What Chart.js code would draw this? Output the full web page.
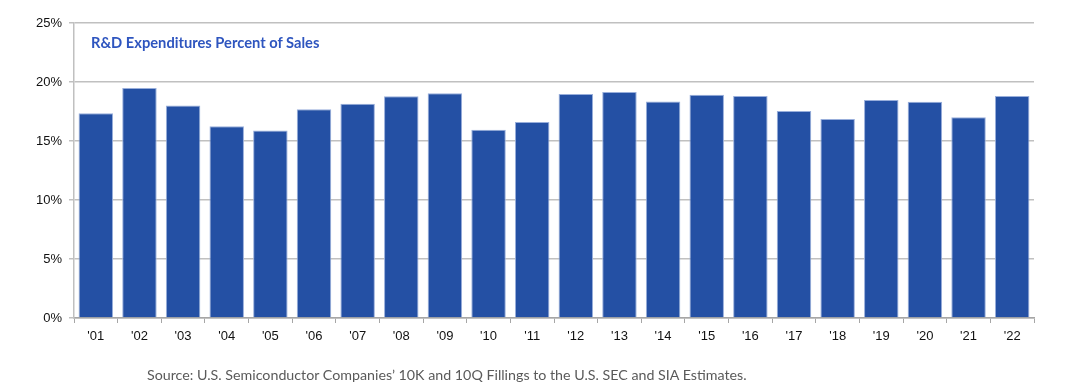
<!DOCTYPE html>
<html>
<head>
<meta charset="utf-8">
<script src="https://cdn.jsdelivr.net/npm/chart.js@4/dist/chart.umd.min.js"></script>
<style>
  html, body { margin: 0; padding: 0; background: #ffffff; }
  #wrap { position: relative; width: 1066px; height: 385px; }
  #c { position: absolute; left: 0; top: 0; }
  #title { position: absolute; left: 91px; top: 33px; font-family: "Lato", "Open Sans", sans-serif; font-weight: 700; font-size: 14.7px; color: #2e55bf; white-space: nowrap; }
  #source { position: absolute; left: 147px; top: 366px; font-family: "Lato", "Open Sans", sans-serif; font-size: 14.25px; color: #5a5a5a; white-space: nowrap; }
</style>
</head>
<body>
<div id="wrap">
  <canvas id="c" width="1066" height="385"></canvas>
  <div id="title">R&amp;D Expenditures Percent of Sales</div>
  <div id="source">Source: U.S. Semiconductor Companies’ 10K and 10Q Fillings to the U.S. SEC and SIA Estimates.</div>
</div>
<script>
const categories = ["'01","'02","'03","'04","'05","'06","'07","'08","'09","'10","'11","'12","'13","'14","'15","'16","'17","'18","'19","'20","'21","'22"];
const rdPercentOfSales = [17.35, 19.5, 18.0, 16.25, 15.9, 17.7, 18.15, 18.8, 19.05, 15.95, 16.6, 18.98, 19.15, 18.35, 18.92, 18.82, 17.55, 16.87, 18.47, 18.32, 17.02, 18.82];
const yTicks = [0, 5, 10, 15, 20, 25];

const ctx = document.getElementById('c').getContext('2d');
new Chart(ctx, {
  type: 'bar',
  data: {
    labels: categories,
    datasets: [{
      data: rdPercentOfSales,
      backgroundColor: '#2450a4',
      borderColor: '#98aedb',
      borderWidth: { top: 1, left: 1, right: 1, bottom: 0 },
      barPercentage: 0.79,
      categoryPercentage: 1.0
    }]
  },
  options: {
    responsive: false,
    animation: false,
    events: [],
    layout: { padding: { left: 0, right: 32, top: 23, bottom: 37 } },
    plugins: { legend: { display: false }, tooltip: { enabled: false }, title: { display: false } },
    scales: {
      x: {
        offset: true,
        grid: { display: true, drawOnChartArea: false, drawTicks: true, tickLength: 5, color: '#a6a6a6', lineWidth: 1, offset: true },
        border: { display: true, color: '#a6a6a6', width: 1.5 },
        ticks: { color: '#111111', font: { family: '"Liberation Sans", Arial, sans-serif', size: 13 }, padding: 6, maxRotation: 0, autoSkip: false },
        afterFit: (s) => { s.height = 30; }
      },
      y: {
        min: 0, max: 25,
        afterBuildTicks: (s) => { s.ticks = yTicks.map(v => ({ value: v })); },
        grid: { color: '#c0c0c0', lineWidth: 1.5, tickLength: 5, drawTicks: true },
        border: { display: true, color: '#c0c0c0', width: 1.5 },
        ticks: { color: '#111111', font: { family: '"Liberation Sans", Arial, sans-serif', size: 13 }, padding: 7, callback: (v) => v + '%' },
        afterFit: (s) => { s.width = 74; }
      }
    }
  }
});
</script>
</body>
</html>
